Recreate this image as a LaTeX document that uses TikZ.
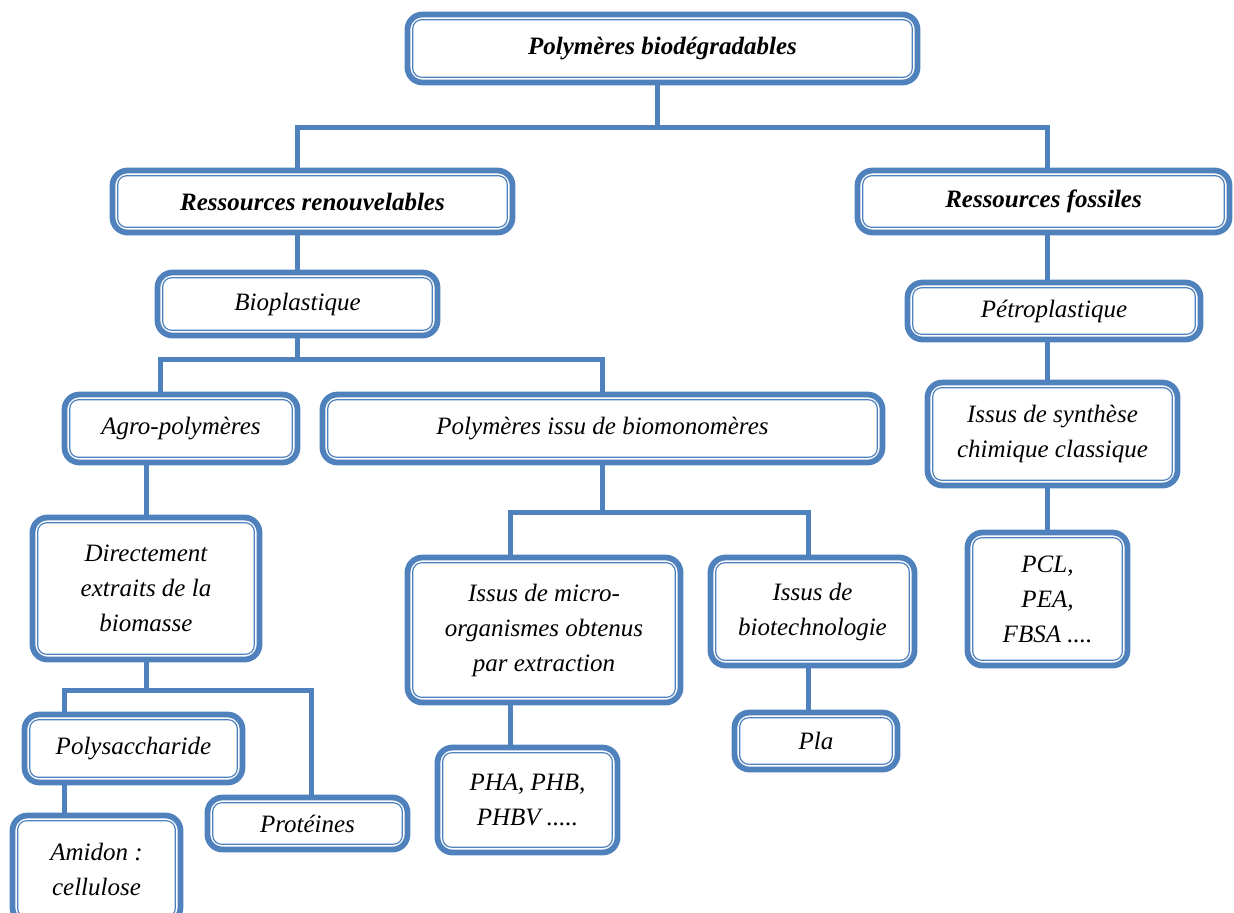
\documentclass[tikz,border=0pt]{standalone}
\usepackage{fontspec}
\setmainfont{Liberation Serif}
\usetikzlibrary{calc}
\definecolor{boxblue}{RGB}{79,129,189}

\begin{document}
\begin{tikzpicture}[
x=0.5pt, y=-0.5pt,% one unit = one pixel of the figure
font=\fontsize{12.5}{17.5}\selectfont\itshape,
  box/.style 2 args = {rectangle, draw=boxblue, line width=2.9pt,
                rounded corners=7.5pt, fill=white, align=center,
                inner sep=0pt, outer sep=0pt,
                minimum width=#1pt, minimum height=#2pt},% sizes of boxes
inbox/.style = {draw=boxblue, line width=0.6pt, rounded corners=4.5pt},
 link/.style = {draw=boxblue, line width=2.5pt},
                    ]
\useasboundingbox (0,0) rectangle (1234,912);
% level 0 and 1
\node[box={255}{34}]  (top)   at (662.5,48.5) {\bfseries Polymères biodégradables};
\node[box={200}{31}]  (ren)   at (312.5,201.5) {\bfseries Ressources renouvelables};
\node[box={186}{31}]  (fos)   at (1043.5,201.5) {\bfseries Ressources fossiles};
% level 2
\node[box={140}{31.5}] (bio)  at (297.5,304) {Bioplastique};
\node[box={146.5}{28.5}] (petro) at (1054,311) {Pétroplastique};
% level 3
\node[box={116.5}{34}] (agro)    at (181,428.5) {Agro-polymères};
\node[box={280}{34}]   (biomono) at (602.5,428.5) {Polymères issu de biomonomères};
\node[box={125}{51.5}] (synth)   at (1052.5,434) {Issus de synthèse\\chimique classique};
% level 4
\node[box={113.5}{71}] (direct)  at (146,588.5) {Directement\\extraits de la\\biomasse};
\node[box={136.5}{72.5}] (micro) at (544,630) {Issus de micro-\\organismes obtenus\\par extraction};
\node[box={102}{54}]   (biotech) at (812.5,611.5) {Issus de\\biotechnologie};
\node[box={80}{66.5}]  (pcl)     at (1047.5,599) {PCL,\\PEA,\\FBSA ....};
% level 5
\node[box={109}{34}]   (polysac) at (133.5,748.5) {Polysaccharide};
\node[box={100}{26}]   (prot)    at (307.5,823.5) {Protéines};
\node[box={84}{53.5}]  (amidon)  at (96.5,869) {Amidon :\\cellulose};
\node[box={90}{52.5}]  (pha)     at (527.5,800) {PHA, PHB,\\PHBV .....};
\node[box={81.5}{28.5}] (pla)    at (816,741) {Pla};
% thin inner line of every box
\foreach \n in {top,ren,fos,bio,petro,agro,biomono,synth,direct,
                micro,biotech,pcl,polysac,prot,amidon,pha,pla}
    \draw[inbox] ($(\n.south west)+(2.6pt,2.6pt)$)
                 rectangle ($(\n.north east)-(2.6pt,2.6pt)$);
% connectors
\draw[link] ([xshift=-2.5pt]top.south) -- ++(0,45) coordinate (j1)
            -| (ren.north -| bio.north);
\draw[link] (j1) -| ([xshift=2pt]fos.north);
\draw[link] (ren.south -| bio.north) -- (bio.north);
\draw[link] ([xshift=2pt]fos.south) -- ([xshift=2pt]fos.south |- petro.north);
\draw[link] (bio.south) -- ++(0,24) coordinate (j2)
            -| ([xshift=-10.5pt]agro.north);
\draw[link] (j2) -| (biomono.north);
\draw[link] (petro.south -| pcl.north) -- (synth.north -| pcl.north);
\draw[link] (agro.south -| direct.north) -- (direct.north);
\draw[link] (biomono.south) -- ++(0,50) coordinate (j3)
            -| ([xshift=-17pt]micro.north);
\draw[link] (j3) -| ([xshift=-2pt]biotech.north);
\draw[link] (synth.south -| pcl.north) -- (pcl.north);
\draw[link] (direct.south) -- ++(0,31) coordinate (j4)
            -| ([xshift=-34.5pt]polysac.north);
\draw[link] (j4) -| ([xshift=2pt]prot.north);
\draw[link] ([xshift=-34.5pt]polysac.south) -- ([xshift=-34.5pt]polysac.south |- amidon.north);
\draw[link] ([xshift=-17pt]micro.south) -- ([xshift=-17pt]micro.south |- pha.north);
\draw[link] ([xshift=-2pt]biotech.south) -- ([xshift=-2pt]biotech.south |- pla.north);
\end{tikzpicture}
\end{document}
